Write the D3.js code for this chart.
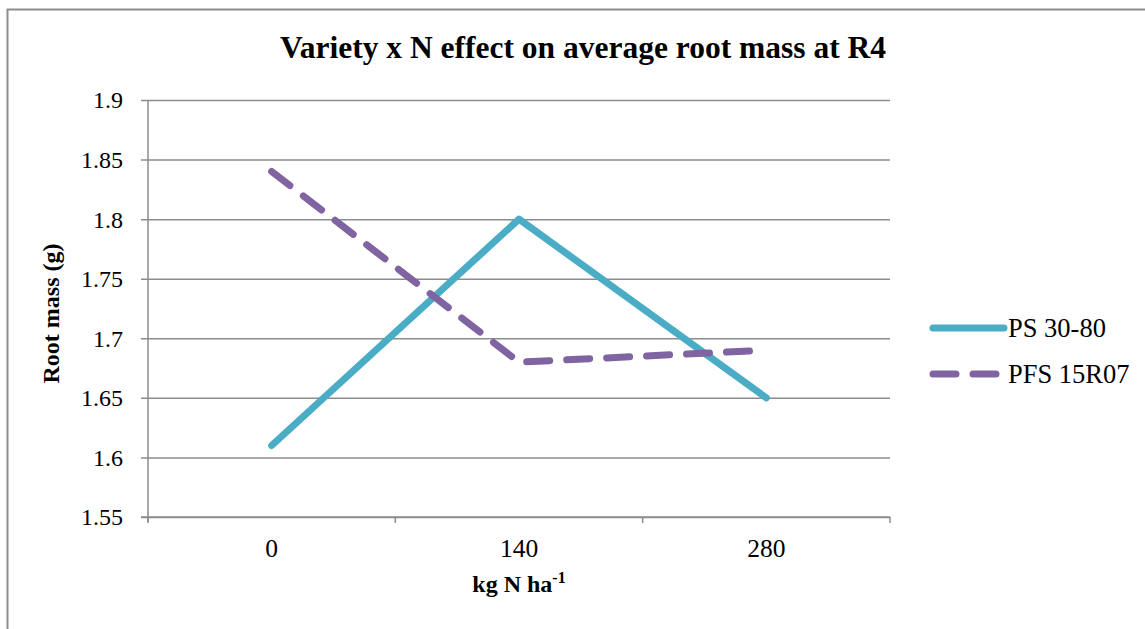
<!DOCTYPE html>
<html>
<head>
<meta charset="utf-8">
<script src="https://cdn.jsdelivr.net/npm/d3@7"></script>
<style>
  html, body { margin: 0; padding: 0; background: #fff; }
  svg { display: block; }
  svg text { font-family: "Liberation Serif", "Times New Roman", "DejaVu Serif", serif; fill: #000; }
</style>
</head>
<body>
<svg id="chart" width="1145" height="629"></svg>
<script>
// Nitrogen rates (kg N/ha) and average root mass (g) at R4
const categories = ["0", "140", "280"];
const psValues = [1.61, 1.80, 1.65];
const pfsValues = [1.84, 1.68, 1.69];
const seriesNames = ["PS 30-80", "PFS 15R07"];
const yTicks = [1.55, 1.6, 1.65, 1.7, 1.75, 1.8, 1.85, 1.9];

const series = [
  { name: seriesNames[0], values: psValues, color: "#4BACC6", dash: null },
  { name: seriesNames[1], values: pfsValues, color: "#8064A2", dash: "23,17" }
];

const svg = d3.select("#chart");
const plot = { left: 148, right: 890, top: 100, bottom: 517 };

// Outer chart frame
svg.append("rect")
  .attr("x", 7.5).attr("y", 9.5)
  .attr("width", 1160).attr("height", 640)
  .attr("fill", "none").attr("stroke", "#8c8c8c").attr("stroke-width", 2);

const x = d3.scaleBand().domain(categories).range([plot.left, plot.right]);
const y = d3.scaleLinear().domain([1.55, 1.9]).range([plot.bottom, plot.top]);

// Horizontal gridlines with left ticks
const yAxis = d3.axisLeft(y).tickValues(yTicks)
  .tickFormat(d => String(+d.toFixed(2)))
  .tickSize(-(plot.right - plot.left)).tickPadding(25);
const gy = svg.append("g").attr("transform", `translate(${plot.left},0)`).call(yAxis);
gy.select(".domain").remove();
gy.attr("font-family", null).attr("font-size", null);
gy.selectAll(".tick line")
  .attr("x1", -7)
  .attr("stroke", "#8c8c8c").attr("stroke-width", 1.5);
gy.selectAll(".tick text")
  .attr("font-size", 24).attr("dy", "0.33em");

// Vertical axis line
svg.append("line")
  .attr("x1", plot.left).attr("x2", plot.left)
  .attr("y1", plot.top).attr("y2", plot.bottom + 5)
  .attr("stroke", "#8c8c8c").attr("stroke-width", 1.5);

// Category axis: ticks at band boundaries
const boundaries = categories.map(c => x(c)).concat([plot.right]);
svg.append("line")
  .attr("x1", plot.left - 7).attr("x2", plot.right)
  .attr("y1", plot.bottom).attr("y2", plot.bottom)
  .attr("stroke", "#8c8c8c").attr("stroke-width", 1.5);
svg.selectAll(".xtick").data(boundaries).enter().append("line")
  .attr("x1", d => d).attr("x2", d => d)
  .attr("y1", plot.bottom).attr("y2", plot.bottom + 6)
  .attr("stroke", "#8c8c8c").attr("stroke-width", 1.5);
svg.selectAll(".xlabel").data(categories).enter().append("text")
  .attr("x", d => x(d) + x.bandwidth() / 2)
  .attr("y", plot.bottom + 40)
  .attr("text-anchor", "middle")
  .attr("font-size", 25.5)
  .text(d => d);

// Series lines
const line = d3.line()
  .x((d, i) => x(categories[i]) + x.bandwidth() / 2)
  .y(d => y(d));
series.forEach(s => {
  svg.append("path")
    .datum(s.values)
    .attr("d", line)
    .attr("fill", "none")
    .attr("stroke", s.color)
    .attr("stroke-width", 7)
    .attr("stroke-linecap", "round")
    .attr("stroke-linejoin", "round")
    .attr("stroke-dasharray", s.dash);
});

// Legend
const legend = svg.append("g");
series.forEach((s, i) => {
  const ly = 328 + i * 46;
  legend.append("line")
    .attr("x1", 933).attr("x2", 1004)
    .attr("y1", ly).attr("y2", ly)
    .attr("stroke", s.color).attr("stroke-width", 7)
    .attr("stroke-linecap", "round")
    .attr("stroke-dasharray", s.dash);
  legend.append("text")
    .attr("x", 1008).attr("y", ly + 9)
    .attr("font-size", 26.5)
    .text(s.name);
});

// Title
svg.append("text")
  .attr("x", 583).attr("y", 58)
  .attr("text-anchor", "middle")
  .attr("font-size", 31.5).attr("font-weight", "bold")
  .text("Variety x N effect on average root mass at R4");

// Axis titles
svg.append("text")
  .attr("transform", `translate(59,${(plot.top + plot.bottom) / 2 + 5}) rotate(-90)`)
  .attr("text-anchor", "middle")
  .attr("font-size", 24).attr("font-weight", "bold")
  .text("Root mass (g)");

const xt = svg.append("text")
  .attr("x", 519).attr("y", 592)
  .attr("text-anchor", "middle")
  .attr("font-size", 24).attr("font-weight", "bold");
xt.append("tspan").text("kg N ha");
xt.append("tspan").attr("dy", -9).attr("font-size", 16).text("-1");
</script>
</body>
</html>
